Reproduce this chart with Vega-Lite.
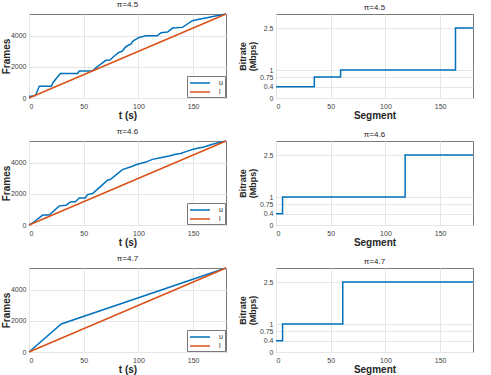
{
  "$schema": "https://vega.github.io/schema/vega-lite/v6.json",
  "padding": {"left": 0, "top": 0, "right": 0, "bottom": 0},
  "background": "white",
  "bounds": "flush",
  "columns": 2,
  "spacing": {"row": 43, "column": 50},
  "resolve": {"scale": {"color": "independent"}, "legend": {"color": "independent"}},
  "datasets": {
    "f45": [
      {"t": 0, "frames": 100, "series": "u"},
      {"t": 5.8, "frames": 150, "series": "u"},
      {"t": 9.4, "frames": 757, "series": "u"},
      {"t": 20.4, "frames": 757, "series": "u"},
      {"t": 22, "frames": 1000, "series": "u"},
      {"t": 28.6, "frames": 1578, "series": "u"},
      {"t": 44.4, "frames": 1578, "series": "u"},
      {"t": 45.9, "frames": 1730, "series": "u"},
      {"t": 58, "frames": 1740, "series": "u"},
      {"t": 62, "frames": 1980, "series": "u"},
      {"t": 66, "frames": 2200, "series": "u"},
      {"t": 70.2, "frames": 2420, "series": "u"},
      {"t": 73.9, "frames": 2440, "series": "u"},
      {"t": 78, "frames": 2700, "series": "u"},
      {"t": 82.4, "frames": 2940, "series": "u"},
      {"t": 85, "frames": 3000, "series": "u"},
      {"t": 88.5, "frames": 3300, "series": "u"},
      {"t": 91.5, "frames": 3420, "series": "u"},
      {"t": 93.1, "frames": 3459, "series": "u"},
      {"t": 95.2, "frames": 3676, "series": "u"},
      {"t": 100.7, "frames": 3892, "series": "u"},
      {"t": 106.8, "frames": 4000, "series": "u"},
      {"t": 117.3, "frames": 4000, "series": "u"},
      {"t": 120.5, "frames": 4195, "series": "u"},
      {"t": 126.6, "frames": 4238, "series": "u"},
      {"t": 131.1, "frames": 4497, "series": "u"},
      {"t": 140.2, "frames": 4540, "series": "u"},
      {"t": 144.8, "frames": 4757, "series": "u"},
      {"t": 149.3, "frames": 4973, "series": "u"},
      {"t": 155.4, "frames": 5059, "series": "u"},
      {"t": 161.5, "frames": 5146, "series": "u"},
      {"t": 169.1, "frames": 5254, "series": "u"},
      {"t": 180, "frames": 5400, "series": "u"},
      {"t": 0, "frames": 0, "series": "l"},
      {"t": 180, "frames": 5400, "series": "l"}
    ],
    "f46": [
      {"t": 0, "frames": 0, "series": "u"},
      {"t": 3.3, "frames": 130, "series": "u"},
      {"t": 12.5, "frames": 637, "series": "u"},
      {"t": 18.5, "frames": 637, "series": "u"},
      {"t": 27.7, "frames": 1230, "series": "u"},
      {"t": 33.8, "frames": 1274, "series": "u"},
      {"t": 38.3, "frames": 1495, "series": "u"},
      {"t": 42.3, "frames": 1495, "series": "u"},
      {"t": 45.9, "frames": 1736, "series": "u"},
      {"t": 51.4, "frames": 1736, "series": "u"},
      {"t": 53.5, "frames": 1956, "series": "u"},
      {"t": 58.1, "frames": 2022, "series": "u"},
      {"t": 64.2, "frames": 2400, "series": "u"},
      {"t": 71.8, "frames": 2880, "series": "u"},
      {"t": 74.8, "frames": 2950, "series": "u"},
      {"t": 85.4, "frames": 3560, "series": "u"},
      {"t": 94.6, "frames": 3780, "series": "u"},
      {"t": 97.6, "frames": 3868, "series": "u"},
      {"t": 106.8, "frames": 4044, "series": "u"},
      {"t": 112.8, "frames": 4220, "series": "u"},
      {"t": 118.9, "frames": 4308, "series": "u"},
      {"t": 128, "frames": 4440, "series": "u"},
      {"t": 134.1, "frames": 4550, "series": "u"},
      {"t": 138.6, "frames": 4593, "series": "u"},
      {"t": 144.7, "frames": 4747, "series": "u"},
      {"t": 150.8, "frames": 4880, "series": "u"},
      {"t": 159.9, "frames": 5010, "series": "u"},
      {"t": 167.5, "frames": 5186, "series": "u"},
      {"t": 180, "frames": 5400, "series": "u"},
      {"t": 0, "frames": 0, "series": "l"},
      {"t": 180, "frames": 5400, "series": "l"}
    ],
    "f47": [
      {"t": 0, "frames": 0, "series": "u"},
      {"t": 29.5, "frames": 1800, "series": "u"},
      {"t": 180, "frames": 5400, "series": "u"},
      {"t": 0, "frames": 0, "series": "l"},
      {"t": 180, "frames": 5400, "series": "l"}
    ],
    "b45": [
      {"seg": 0, "rate": 0.4},
      {"seg": 35, "rate": 0.75},
      {"seg": 59, "rate": 1},
      {"seg": 164, "rate": 2.5},
      {"seg": 180, "rate": 2.5}
    ],
    "b46": [
      {"seg": 0, "rate": 0.4},
      {"seg": 6, "rate": 1},
      {"seg": 118, "rate": 2.5},
      {"seg": 180, "rate": 2.5}
    ],
    "b47": [
      {"seg": 0, "rate": 0.4},
      {"seg": 6, "rate": 1},
      {"seg": 61, "rate": 2.5},
      {"seg": 180, "rate": 2.5}
    ]
  },
  "concat": [
    {
      "width": 197, "height": 84, "title": "π=4.5",
      "data": {"name": "f45"},
      "mark": {"type": "line", "strokeWidth": 1.5},
      "encoding": {
        "x": {"field": "t", "type": "quantitative", "scale": {"domain": [0, 180], "nice": false}, "axis": {"title": "t (s)", "values": [0, 50, 100, 150], "format": "d"}},
        "y": {"field": "frames", "type": "quantitative", "scale": {"domain": [0, 5400], "nice": false}, "axis": {"title": "Frames", "titlePadding": -1, "labelPadding": 3, "values": [0, 2000, 4000], "format": "d"}},
        "color": {"field": "series", "type": "nominal", "sort": ["u", "l"], "scale": {"domain": ["u", "l"], "range": ["#0072BD", "#D95319"]}, "legend": {"title": null, "orient": "bottom-right"}}
      }
    },
    {
      "width": 197, "height": 84, "title": "π=4.5",
      "data": {"name": "b45"},
      "mark": {"type": "line", "interpolate": "step-after", "strokeWidth": 1.5, "color": "#0072BD"},
      "encoding": {
        "x": {"field": "seg", "type": "quantitative", "scale": {"domain": [0, 180], "nice": false}, "axis": {"title": "Segment", "values": [0, 50, 100, 150], "format": "d"}},
        "y": {"field": "rate", "type": "quantitative", "scale": {"domain": [0, 3], "nice": false}, "axis": {"title": ["Bitrate", "(Mbps)"], "titleFontSize": 9, "titleLineHeight": 10, "titlePadding": 2, "labelPadding": 3, "values": [0, 0.4, 0.75, 1, 2.5], "format": "~g", "labelOverlap": false}}
      }
    },
    {
      "width": 197, "height": 84, "title": "π=4.6",
      "data": {"name": "f46"},
      "mark": {"type": "line", "strokeWidth": 1.5},
      "encoding": {
        "x": {"field": "t", "type": "quantitative", "scale": {"domain": [0, 180], "nice": false}, "axis": {"title": "t (s)", "values": [0, 50, 100, 150], "format": "d"}},
        "y": {"field": "frames", "type": "quantitative", "scale": {"domain": [0, 5400], "nice": false}, "axis": {"title": "Frames", "titlePadding": -1, "labelPadding": 3, "values": [0, 2000, 4000], "format": "d"}},
        "color": {"field": "series", "type": "nominal", "sort": ["u", "l"], "scale": {"domain": ["u", "l"], "range": ["#0072BD", "#D95319"]}, "legend": {"title": null, "orient": "bottom-right"}}
      }
    },
    {
      "width": 197, "height": 84, "title": "π=4.6",
      "data": {"name": "b46"},
      "mark": {"type": "line", "interpolate": "step-after", "strokeWidth": 1.5, "color": "#0072BD"},
      "encoding": {
        "x": {"field": "seg", "type": "quantitative", "scale": {"domain": [0, 180], "nice": false}, "axis": {"title": "Segment", "values": [0, 50, 100, 150], "format": "d"}},
        "y": {"field": "rate", "type": "quantitative", "scale": {"domain": [0, 3], "nice": false}, "axis": {"title": ["Bitrate", "(Mbps)"], "titleFontSize": 9, "titleLineHeight": 10, "titlePadding": 2, "labelPadding": 3, "values": [0, 0.4, 0.75, 1, 2.5], "format": "~g", "labelOverlap": false}}
      }
    },
    {
      "width": 197, "height": 84, "title": "π=4.7",
      "data": {"name": "f47"},
      "mark": {"type": "line", "strokeWidth": 1.5},
      "encoding": {
        "x": {"field": "t", "type": "quantitative", "scale": {"domain": [0, 180], "nice": false}, "axis": {"title": "t (s)", "values": [0, 50, 100, 150], "format": "d"}},
        "y": {"field": "frames", "type": "quantitative", "scale": {"domain": [0, 5400], "nice": false}, "axis": {"title": "Frames", "titlePadding": -1, "labelPadding": 3, "values": [0, 2000, 4000], "format": "d"}},
        "color": {"field": "series", "type": "nominal", "sort": ["u", "l"], "scale": {"domain": ["u", "l"], "range": ["#0072BD", "#D95319"]}, "legend": {"title": null, "orient": "bottom-right"}}
      }
    },
    {
      "width": 197, "height": 84, "title": "π=4.7",
      "data": {"name": "b47"},
      "mark": {"type": "line", "interpolate": "step-after", "strokeWidth": 1.5, "color": "#0072BD"},
      "encoding": {
        "x": {"field": "seg", "type": "quantitative", "scale": {"domain": [0, 180], "nice": false}, "axis": {"title": "Segment", "values": [0, 50, 100, 150], "format": "d"}},
        "y": {"field": "rate", "type": "quantitative", "scale": {"domain": [0, 3], "nice": false}, "axis": {"title": ["Bitrate", "(Mbps)"], "titleFontSize": 9, "titleLineHeight": 10, "titlePadding": 2, "labelPadding": 3, "values": [0, 0.4, 0.75, 1, 2.5], "format": "~g", "labelOverlap": false}}
      }
    }
  ],
  "config": {
    "font": "Liberation Sans",
    "view": {"stroke": "#7a7a7a", "strokeWidth": 1},
    "axis": {
      "domain": false, "grid": true, "gridColor": "#e6e6e6", "ticks": false,
      "labelFontSize": 7, "labelColor": "#404040", "labelPadding": 4,
      "titleFontSize": 10, "titleFontWeight": "bold", "titleColor": "#262626", "titlePadding": 1
    },
    "title": {"fontSize": 8, "fontWeight": "normal", "color": "#262626", "offset": 2},
    "legend": {
      "strokeColor": "#7a7a7a", "fillColor": "white", "padding": 2,
      "labelFontSize": 7, "labelColor": "#262626", "labelOffset": 14,
      "symbolType": "M-2.5,0H2.5", "symbolStrokeWidth": 1.5, "symbolSize": 64, "symbolOffset": 6,
      "rowPadding": 1, "offset": 1
    }
  }
}
